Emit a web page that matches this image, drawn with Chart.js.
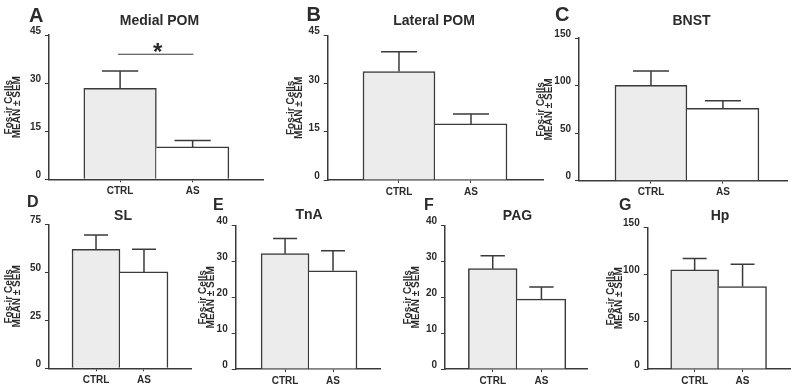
<!DOCTYPE html>
<html>
<head>
<meta charset="utf-8">
<script src="https://cdn.jsdelivr.net/npm/chart.js@4.4.0/dist/chart.umd.min.js"></script>
<style>
  body { margin: 0; background: #fff; }
  #container { position: relative; width: 800px; height: 392px; overflow: hidden; }
  canvas { position: absolute; }
</style>
</head>
<body>
<div id="container"></div>
<script>
const categories = ["CTRL", "AS"];
const panelLetters = ["A", "B", "C", "D", "E", "F", "G"];
const regions = ["Medial POM", "Lateral POM", "BNST", "SL", "TnA", "PAG", "Hp"];
const ctrlMeans = [28.4, 33.8, 100.5, 62, 32.2, 28, 104.9];
const ctrlSems = [5.4, 6.2, 15, 7.4, 4.2, 3.6, 12];
const asMeans = [10.1, 17.5, 76.2, 50.2, 27.4, 19.5, 87.3];
const asSems = [2.0, 3.1, 8, 11.8, 5.6, 3.4, 23.6];
const yMax = [45, 45, 150, 75, 40, 40, 150];
const yStep = [15, 15, 50, 25, 10, 10, 50];
const yTitle = ["Fos-ir Cells", "MEAN \u00b1 SEM"];
// significance bar, panel A only (x in category units, y in data units)
const sigSpan = [0.97, 2.01];
const sigLevel = 39;
const sigMark = "*";

const fontFamily = "'Liberation Sans', Arial, sans-serif";
const ink = "#3a3a3a";
const textColor = "#2b2b2b";

// where each panel sits on the page (px): canvas box, plot box, x range, text spots
const layout = [
  { box: [0, 0, 265, 200], plot: [49, 35, 263, 179.3], xr: [0.02, 2.97], letter: [29, 22], title: [159.5, 25], yt: 9.5 },
  { box: [280, 0, 265, 200], plot: [327.7, 35.7, 543, 180], xr: [0.01, 3.0], letter: [306.5, 21], title: [434, 25], yt: 291 },
  { box: [530, 0, 270, 200], plot: [579, 38.2, 787, 180.7], xr: [0, 2.89], letter: [555, 21], title: [691.5, 25], yt: 541 },
  { box: [0, 190, 195, 202], plot: [49, 224.3, 191, 368.3], xr: [0.02, 2.98], letter: [27, 207], title: [123, 220], yt: 9.5 },
  { box: [196, 190, 200, 202], plot: [235.7, 225.7, 380, 369], xr: [-0.03, 2.98], letter: [213, 210], title: [309, 219], yt: 203.5 },
  { box: [398, 190, 200, 202], plot: [445, 225.7, 587.7, 369], xr: [0.02, 2.95], letter: [424, 210], title: [517.5, 220], yt: 408 },
  { box: [600, 190, 200, 202], plot: [647.7, 227.3, 790, 369], xr: [0.02, 2.99], letter: [619, 210], title: [720, 220], yt: 611 },
];

Chart.defaults.font.family = fontFamily;
Chart.defaults.font.weight = "bold";
Chart.defaults.color = textColor;

const panelText = {
  id: "panelText",
  afterDraw(chart, args, opts) {
    const ctx = chart.ctx;
    const [bx, by] = opts.box;
    ctx.save();
    ctx.fillStyle = textColor;
    ctx.textBaseline = "alphabetic";
    ctx.textAlign = "left";
    ctx.font = `bold ${opts.letterSize}px ${fontFamily}`;
    ctx.fillText(opts.letter, opts.letterPos[0] - bx, opts.letterPos[1] - by);
    ctx.textAlign = "center";
    ctx.font = `bold 14px ${fontFamily}`;
    ctx.fillText(opts.title, opts.titlePos[0] - bx, opts.titlePos[1] - by);
    ctx.restore();
  },
};

const errorBars = {
  id: "errorBars",
  afterDatasetsDraw(chart, args, opts) {
    const ctx = chart.ctx;
    const meta = chart.getDatasetMeta(0);
    const yScale = chart.scales.y;
    ctx.save();
    ctx.strokeStyle = ink;
    ctx.lineWidth = 1.5;
    meta.data.forEach((bar, i) => {
      const top = yScale.getPixelForValue(opts.means[i] + opts.sems[i]);
      const half = bar.width / 4;
      ctx.beginPath();
      ctx.moveTo(bar.x, bar.y);
      ctx.lineTo(bar.x, top);
      ctx.moveTo(bar.x - half, top);
      ctx.lineTo(bar.x + half, top);
      ctx.stroke();
    });
    if (opts.sig) {
      const x = chart.scales.x.getPixelForValue((sigSpan[0] + sigSpan[1]) / 2) + 2;
      const y = yScale.getPixelForValue(sigLevel) - 7;
      ctx.fillStyle = textColor;
      ctx.font = `bold 24px ${fontFamily}`;
      ctx.textAlign = "center";
      ctx.textBaseline = "alphabetic";
      const m = ctx.measureText(sigMark);
      ctx.fillText(sigMark, x, y + (m.actualBoundingBoxAscent - m.actualBoundingBoxDescent) / 2);
    }
    ctx.restore();
  },
};

function chart(p) {
  const L = layout[p];
  const [bx, by, bw, bh] = L.box;
  const [pl, pt, pr, pb] = L.plot;
  const bottomRow = by > 0;
  const titleLine = 8;

  const datasets = [
    {
      type: "bar",
      data: [
        { x: 1, y: ctrlMeans[p] },
        { x: 2, y: asMeans[p] },
      ],
      backgroundColor: ["#ececec", "#ffffff"],
      borderColor: ink,
      borderSkipped: false,
      borderWidth: (c) =>
        c.dataIndex === 0
          ? { top: 1.5, left: 1.5, right: 1.5, bottom: 0 }
          : { top: 1.5, left: 0, right: 1.5, bottom: 0 },
      categoryPercentage: 1,
      barPercentage: 1,
    },
  ];
  if (p === 0) {
    datasets.push({
      type: "line",
      data: [
        { x: sigSpan[0], y: sigLevel },
        { x: sigSpan[1], y: sigLevel },
      ],
      borderColor: ink,
      borderWidth: 1.2,
      pointRadius: 0,
    });
  }

  const config = {
    type: "bar",
    data: { datasets: datasets },
    options: {
      responsive: false,
      animation: false,
      layout: { padding: { left: 0, top: pt - by, right: bx + bw - pr, bottom: 0 } },
      plugins: {
        legend: { display: false },
        tooltip: { enabled: false },
        panelText: {
          box: L.box,
          letter: panelLetters[p],
          letterPos: L.letter,
          letterSize: bottomRow ? 16 : 20,
          title: regions[p],
          titlePos: L.title,
        },
        errorBars: {
          means: [ctrlMeans[p], asMeans[p]],
          sems: [ctrlSems[p], asSems[p]],
          sig: p === 0,
        },
      },
      scales: {
        x: {
          type: "linear",
          min: L.xr[0],
          max: L.xr[1],
          offset: false,
          z: 1,
          afterBuildTicks: (s) => {
            s.ticks = categories.map((c, i) => ({ value: i + 1 }));
          },
          afterFit: (s) => {
            s.height = by + bh - pb;
          },
          ticks: {
            callback: (v) => categories[v - 1],
            font: { size: 10, weight: "bold" },
            color: textColor,
            padding: 3,
            maxRotation: 0,
            autoSkip: false,
          },
          grid: { display: true, offset: false, drawOnChartArea: false, tickLength: 3, color: ink, lineWidth: 1 },
          border: { display: true, color: ink, width: 1.5 },
        },
        y: {
          min: 0,
          max: yMax[p],
          afterFit: (s) => {
            s.width = pl - bx;
          },
          ticks: {
            stepSize: yStep[p],
            font: { size: 10, weight: "bold" },
            color: textColor,
            padding: 4,
            labelOffset: -4,
          },
          grid: { display: true, drawOnChartArea: false, tickLength: 4, color: ink, lineWidth: 1 },
          border: { display: true, color: ink, width: 1.5 },
          title: {
            display: true,
            text: yTitle,
            color: textColor,
            font: { size: 10, weight: "bold", lineHeight: titleLine / 10 },
            padding: { top: L.yt - bx - titleLine / 2, bottom: 0 },
          },
        },
      },
    },
    plugins: [panelText, errorBars],
  };

  const canvas = document.createElement("canvas");
  canvas.width = bw;
  canvas.height = bh;
  canvas.style.left = bx + "px";
  canvas.style.top = by + "px";
  document.getElementById("container").appendChild(canvas);
  new Chart(canvas.getContext("2d"), config);
}

for (let p = 0; p < regions.length; p++) chart(p);
</script>
</body>
</html>
